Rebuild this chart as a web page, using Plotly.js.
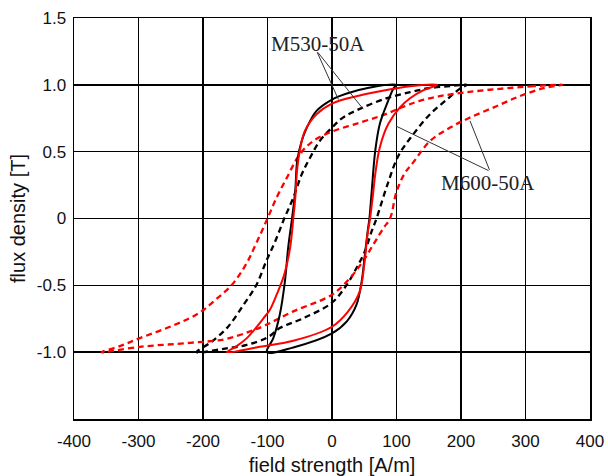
<!DOCTYPE html>
<html>
<head>
<meta charset="utf-8">
<script src="https://cdn.plot.ly/plotly-3.0.1.min.js"></script>
<style>html,body{margin:0;padding:0;background:#fff;}#chart{width:608px;height:476px;}</style>
</head>
<body>
<div id="chart"></div>
<script>
// M530-50A, solid black loop (descending branch then ascending branch)
const blackSolidH = [99, 59, 23, 0, -24, -39, -47, -54, -57, -62, -68, -73, -81, -91, -101,
                     -60, 0, 23, 38, 46, 51, 56, 58, 61.5, 67, 74, 85, 95, 99];
const blackSolidB = [1.0, 0.98, 0.935, 0.89, 0.805, 0.68, 0.58, 0.43, 0.205, 0.0, -0.22, -0.47, -0.72, -0.895, -1.0,
                     -0.965, -0.86, -0.77, -0.645, -0.47, -0.27, -0.07, 0.0, 0.2, 0.505, 0.705, 0.855, 0.97, 1.0];

// M600-50A, solid red loop
const redSolidH = [163, 121, 95, 43, 0, -24, -42, -50, -54, -57, -60, -65, -74, -85, -96, -106, -132, -148, -163,
                   -112, -60, 0, 25, 43, 50, 55, 59, 64, 67, 74, 87, 105, 121, 142, 163];
const redSolidB = [1.0, 0.99, 0.97, 0.92, 0.86, 0.78, 0.655, 0.505, 0.37, 0.15, 0.0, -0.22, -0.42, -0.56, -0.68, -0.745, -0.895, -0.955, -1.0,
                   -0.96, -0.915, -0.81, -0.695, -0.545, -0.345, -0.12, 0.0, 0.2, 0.33, 0.53, 0.705, 0.83, 0.9, 0.96, 1.0];

// M530-50A, dashed black loop
const blackDashH = [209, 183, 150, 121, 85, 43, 17, 0, -19, -34, -47, -60, -74, -88, -102, -117, -137, -163, -189, -210,
                    -168, -132, -100, -81, -44, 0, 23, 38, 51, 61.5, 69, 85, 103, 126, 152, 178, 198, 209];
const blackDashB = [1.0, 0.99, 0.975, 0.945, 0.9, 0.82, 0.755, 0.68, 0.58, 0.455, 0.33, 0.155, 0.0, -0.17, -0.32, -0.495, -0.645, -0.82, -0.93, -1.0,
                    -0.975, -0.945, -0.89, -0.82, -0.745, -0.63, -0.495, -0.37, -0.245, -0.095, 0.0, 0.24, 0.47, 0.63, 0.78, 0.89, 0.97, 1.0];

// M600-50A, dashed red loop
const redDashH = [357, 312, 260, 209, 167, 136, 110, 80, 45, 0, -29, -50, -70, -86, -100, -116, -133, -155, -181, -207, -246, -298, -329, -357,
                  -298, -220, -168, -127, -104, -60, 0, 28, 48, 64, 80, 90, 100, 113, 126, 152, 183, 214, 255, 291, 328, 357];
const redDashB = [1.0, 0.99, 0.97, 0.945, 0.915, 0.88, 0.835, 0.775, 0.72, 0.65, 0.58, 0.48, 0.305, 0.155, 0.0, -0.17, -0.34, -0.495, -0.61, -0.71, -0.8, -0.895, -0.955, -1.0,
                  -0.96, -0.93, -0.905, -0.845, -0.8, -0.695, -0.57, -0.445, -0.32, -0.195, -0.07, 0.0, 0.2, 0.34, 0.42, 0.58, 0.68, 0.755, 0.84, 0.915, 0.975, 1.0];

const xTickVals = [-400, -300, -200, -100, 0, 100, 200, 300, 400];
const xTickText = ['-400', '-300', '-200', '-100', '0', '100', '200', '300', '400'];
const yTickVals = [-1.0, -0.5, 0, 0.5, 1.0, 1.5];
const yTickText = ['-1.0', '-0.5', '0', '0.5', '1.0', '1.5'];

const labels = ['M530-50A', 'M600-50A'];
const labelPos = [[-22, 1.305], [242, 0.263]];
const leaderStart = [[-24, 1.255], [245, 0.353]];
const leaderEnds = [[[10, 0.89], [48.5, 0.818]], [[99, 0.692], [214, 0.73]]];

function loopTrace(x, y, color, dashed) {
  return {x: x, y: y, mode: 'lines',
    line: {color: color, width: dashed ? 2.3 : 2, dash: dashed ? '6px,4px' : 'solid', shape: 'spline', smoothing: 1}};
}

const traces = [
  loopTrace(blackDashH, blackDashB, '#000', true),
  loopTrace(redDashH, redDashB, '#ff0000', true),
  loopTrace(blackSolidH, blackSolidB, '#000', false),
  loopTrace(redSolidH, redSolidB, '#ff0000', false)
];

const annotations = [];
labels.forEach((t, i) => {
  annotations.push({x: labelPos[i][0], y: labelPos[i][1], xref: 'x', yref: 'y', text: t, showarrow: false,
    font: {family: 'Liberation Serif, Times New Roman, serif', size: 21, color: '#222'}});
  leaderEnds[i].forEach(e => {
    annotations.push({x: e[0], y: e[1], xref: 'x', yref: 'y', ax: leaderStart[i][0], ay: leaderStart[i][1],
      axref: 'x', ayref: 'y', text: '', showarrow: true, arrowhead: 0, arrowwidth: 1, arrowcolor: '#333', standoff: 0, startstandoff: 0});
  });
});

const axisCommon = {
  showgrid: true, gridcolor: '#000', gridwidth: 1.5, zeroline: false,
  showline: true, linecolor: '#000', linewidth: 1.5, mirror: true, ticks: '',
  tickfont: {family: 'Liberation Sans, Arial, sans-serif', size: 17, color: '#111'}
};

const layout = {
  width: 608, height: 476,
  margin: {l: 74, r: 18, t: 18, b: 57, pad: 0},
  paper_bgcolor: '#fff', plot_bgcolor: '#fff',
  showlegend: false,
  font: {family: 'Liberation Sans, Arial, sans-serif', size: 17, color: '#111'},
  xaxis: Object.assign({}, axisCommon, {
    range: [-400, 400], tickmode: 'array', tickvals: xTickVals, ticktext: xTickText,
    ticklabelstandoff: 6,
    title: {text: 'field strength [A/m]', font: {size: 20, family: 'Liberation Sans, Arial, sans-serif', color: '#111'}, standoff: 8}
  }),
  yaxis: Object.assign({}, axisCommon, {
    range: [-1.5, 1.5], tickmode: 'array', tickvals: yTickVals, ticktext: yTickText,
    ticklabelstandoff: 3,
    title: {text: 'flux density [T]', font: {size: 20, family: 'Liberation Sans, Arial, sans-serif', color: '#111'}, standoff: 6}
  }),
  annotations: annotations
};

Plotly.newPlot('chart', traces, layout, {staticPlot: true, displayModeBar: false});
</script>
</body>
</html>
